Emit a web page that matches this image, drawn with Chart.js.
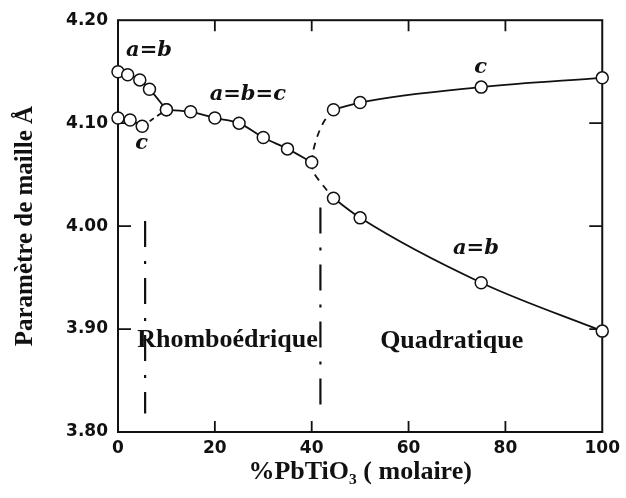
<!DOCTYPE html>
<html>
<head>
<meta charset="utf-8">
<script src="https://cdn.jsdelivr.net/npm/chart.js@4/dist/chart.umd.min.js"></script>
<style>
html,body{margin:0;padding:0;background:#fff;}
canvas{display:block;}
</style>
</head>
<body>
<canvas id="c" width="626" height="498"></canvas>
<script>
// ---- data ----
const abRhomboX = [0, 2, 4.5, 6.5, 10];
const abRhomboY = [4.150, 4.147, 4.142, 4.133, 4.113];
const cRhomboX = [0, 2.5, 5];
const cRhomboY = [4.105, 4.103, 4.097];
const cJoinX = [5, 10];
const cJoinY = [4.097, 4.113];
const cubicX = [10, 15, 20, 25, 30, 35, 40];
const cubicY = [4.113, 4.111, 4.105, 4.100, 4.086, 4.075, 4.062];
const cTetraX = [44.5, 50, 75, 100];
const cTetraY = [4.113, 4.120, 4.135, 4.144];
const abTetraX = [44.5, 50, 75, 100];
const abTetraY = [4.027, 4.008, 3.945, 3.898];
const upperBranchX = [40, 40.3, 41.3, 42.6, 44.5];
const upperBranchY = [4.062, 4.073, 4.089, 4.102, 4.113];
const lowerBranchX = [40, 40.4, 42.6, 44.5];
const lowerBranchY = [4.062, 4.052, 4.038, 4.027];
const boundary1X = [5.6, 5.6];
const boundary1Y = [4.005, 3.818];
const boundary2X = [41.8, 41.8];
const boundary2Y = [4.018, 3.821];
const xTicks = [0, 20, 40, 60, 80, 100];
const yTicks = [3.80, 3.90, 4.00, 4.10, 4.20];
const xTitle = '%PbTiO\u2083 ( molaire)';
const yTitle = 'Paramètre de maille Å';

const pts = (xs, ys) => xs.map((x, i) => ({x: x, y: ys[i]}));

const INK = '#111';
const markerSet = (xs, ys) => ({
  data: pts(xs, ys), showLine: true, borderColor: INK, borderWidth: 1.8,
  pointRadius: 6, pointHoverRadius: 6, pointBackgroundColor: '#fff',
  pointBorderColor: INK, pointBorderWidth: 1.5, cubicInterpolationMode: 'monotone',
  clip: false, order: 1
});
const lineSet = (xs, ys, dash, w, tension) => ({
  data: pts(xs, ys), showLine: true, borderColor: INK, borderWidth: w,
  pointRadius: 0, pointHoverRadius: 0, borderDash: dash, tension: tension,
  clip: false, order: 5
});

// inward tick marks and frame
const framePlugin = {
  id: 'frame',
  beforeDatasetsDraw(chart) {
    const {ctx, chartArea: a, scales: {x, y}} = chart;
    ctx.save();
    ctx.strokeStyle = INK;
    ctx.lineWidth = 2;
    ctx.strokeRect(a.left, a.top, a.right - a.left, a.bottom - a.top);
    ctx.lineWidth = 1.8;
    ctx.beginPath();
    xTicks.slice(1, -1).forEach(v => {
      const px = x.getPixelForValue(v);
      ctx.moveTo(px, a.bottom); ctx.lineTo(px, a.bottom - 11);
      ctx.moveTo(px, a.top); ctx.lineTo(px, a.top + 11);
    });
    yTicks.slice(1, -1).forEach(v => {
      const py = y.getPixelForValue(v);
      ctx.moveTo(a.left, py); ctx.lineTo(a.left + 13, py);
      ctx.moveTo(a.right, py); ctx.lineTo(a.right - 13, py);
    });
    ctx.stroke();
    ctx.restore();
  }
};

const labelPlugin = {
  id: 'labels',
  afterDatasetsDraw(chart) {
    const {ctx, scales: {x, y}} = chart;
    const put = (t, vx, vy, font) => {
      ctx.font = font;
      ctx.fillText(t, x.getPixelForValue(vx), y.getPixelForValue(vy));
    };
    ctx.save();
    ctx.fillStyle = INK;
    ctx.textAlign = 'center';
    ctx.textBaseline = 'middle';
    const it = 'italic bold 21px "DejaVu Serif"';
    put('a=b', 6.4, 4.171, it);
    put('c', 4.9, 4.080, it);
    put('a=b=c', 26.8, 4.128, it);
    put('c', 74.9, 4.154, it);
    put('a=b', 73.9, 3.978, it);
    const sf = 'bold 26px "Liberation Serif"';
    put('Rhomboédrique', 22.6, 3.889, sf);
    put('Quadratique', 68.9, 3.888, sf);
    ctx.restore();
  }
};

new Chart(document.getElementById('c'), {
  type: 'scatter',
  data: {
    datasets: [
      markerSet(abRhomboX, abRhomboY),
      markerSet(cRhomboX, cRhomboY),
      lineSet(cJoinX, cJoinY, [5, 4], 1.8, 0),
      markerSet(cubicX, cubicY),
      lineSet(upperBranchX, upperBranchY, [7, 6], 1.8, 0.3),
      lineSet(lowerBranchX, lowerBranchY, [7, 6], 1.8, 0.3),
      markerSet(cTetraX, cTetraY),
      markerSet(abTetraX, abTetraY),
      lineSet(boundary1X, boundary1Y, [26, 14, 3, 14], 2.2, 0),
      lineSet(boundary2X, boundary2Y, [26, 14, 3, 14], 2.2, 0)
    ]
  },
  options: {
    responsive: false,
    devicePixelRatio: 1,
    animation: false,
    events: [],
    layout: {padding: {top: 19, right: 22, left: 0, bottom: 0}},
    plugins: {legend: {display: false}, tooltip: {enabled: false}},
    scales: {
      x: {
        type: 'linear', min: 0, max: 100,
        afterBuildTicks: s => { s.ticks = xTicks.map(v => ({value: v})); },
        afterFit: s => { s.height = 66; },
        grid: {display: false, drawTicks: false},
        border: {display: false},
        ticks: {color: INK, padding: 6, font: {family: 'DejaVu Sans', weight: 'bold', size: 17},
          callback: v => String(v)},
        title: {display: true, text: xTitle, color: INK, padding: {top: 0, bottom: 10},
          font: {family: 'Liberation Serif', weight: 'bold', size: 26}}
      },
      y: {
        type: 'linear', min: 3.8, max: 4.2,
        afterBuildTicks: s => { s.ticks = yTicks.map(v => ({value: v})); },
        afterFit: s => { s.width = 118; },
        grid: {display: false, drawTicks: false},
        border: {display: false},
        ticks: {color: INK, padding: 10, font: {family: 'DejaVu Sans', weight: 'bold', size: 17},
          callback: v => Number(v).toFixed(2)},
        title: {display: true, text: yTitle, color: INK, padding: {top: 11, bottom: 0},
          font: {family: 'Liberation Serif', weight: 'bold', size: 25}}
      }
    }
  },
  plugins: [framePlugin, labelPlugin]
});
</script>
</body>
</html>
